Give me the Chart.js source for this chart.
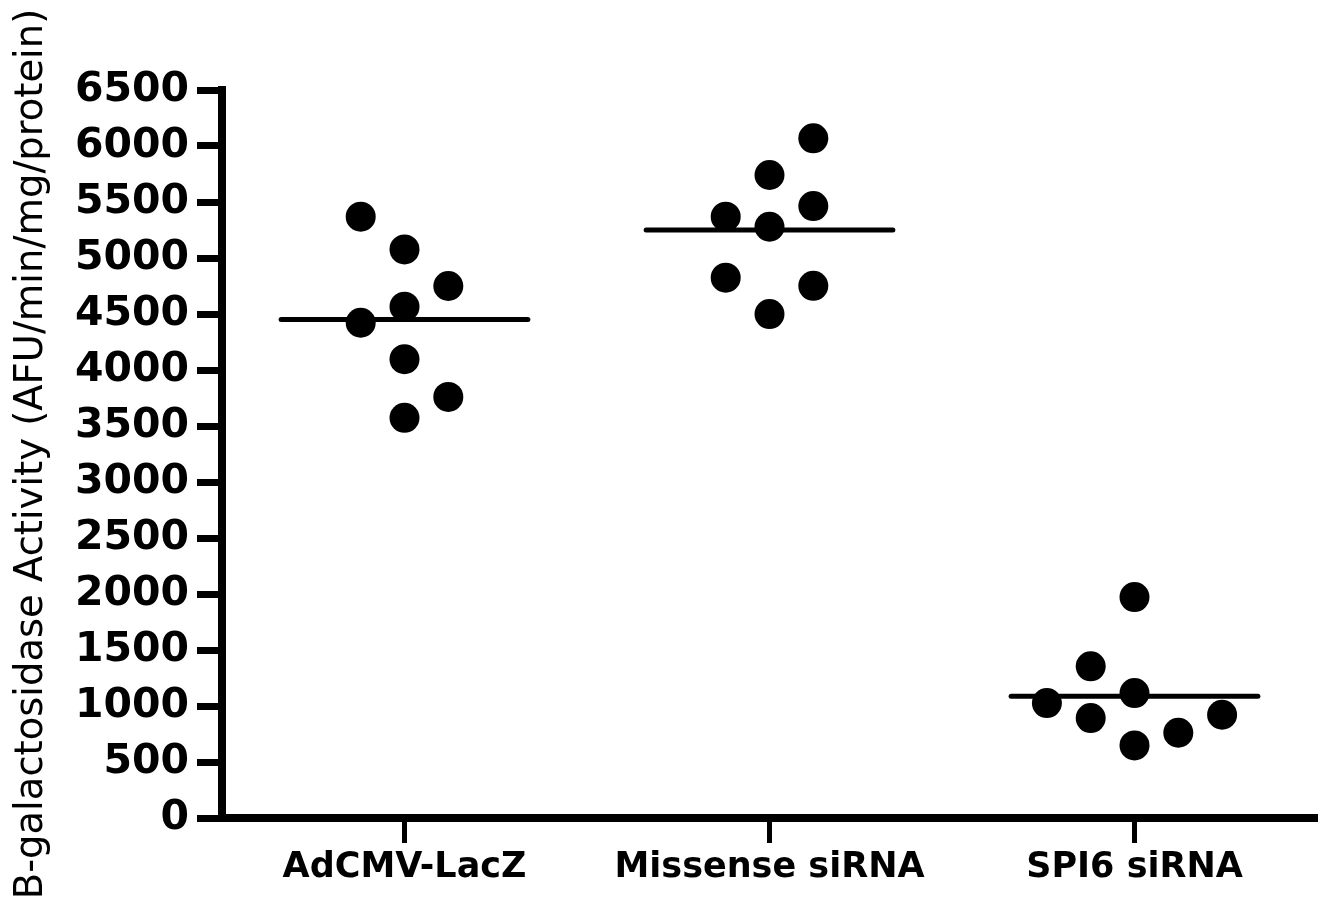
<!DOCTYPE html>
<html>
<head>
<meta charset="utf-8">
<script src="https://cdn.jsdelivr.net/npm/chart.js@4"></script>
<style>
  html, body { margin: 0; padding: 0; background: #ffffff; }
  #wrap { width: 1332px; height: 906px; }
</style>
</head>
<body>
<div id="wrap"><canvas id="c" width="1332" height="906"></canvas></div>
<script>
// ---- data ----
const categories = ['AdCMV-LacZ', 'Missense siRNA', 'SPI6 siRNA'];

const adcmvValues   = [5369, 5077, 4750, 4565, 4422, 4097, 3760, 3573];
const adcmvColumns  = [-1, 0, 1, 0, -1, 0, 1, 0];

const missenseValues  = [6069, 5741, 5369, 5464, 5279, 4824, 4752, 4499];
const missenseColumns = [1, 0, -1, 1, 0, -1, 1, 0];

const spi6Values  = [1973, 1354, 1026, 1115, 892, 922, 761, 648];
const spi6Columns = [0, -1, -2, 0, -1, 2, 1, 0];

const yMin = 0, yMax = 6500, yStep = 500;
const yTitle = 'B-galactosidase Activity (AFU/min/mg/protein)';

// ---- build ----
const columnSpacing = 0.12;   // horizontal spread of scatter columns (category units)
const meanHalfWidth = 0.338;

const groups = [
  { values: adcmvValues, columns: adcmvColumns },
  { values: missenseValues, columns: missenseColumns },
  { values: spi6Values, columns: spi6Columns }
];

const datasets = [];
groups.forEach((g, i) => {
  datasets.push({
    type: 'scatter',
    data: g.values.map((v, k) => ({ x: i + g.columns[k] * columnSpacing, y: v })),
    pointRadius: 15,
    pointHoverRadius: 15,
    pointBackgroundColor: '#000000',
    pointBorderColor: '#000000',
    pointBorderWidth: 0,
    showLine: false,
    clip: false
  });
});
groups.forEach((g, i) => {
  const mean = g.values.reduce((a, b) => a + b, 0) / g.values.length;
  datasets.push({
    type: 'line',
    data: [{ x: i - meanHalfWidth, y: mean }, { x: i + meanHalfWidth, y: mean }],
    borderColor: '#000000',
    borderWidth: 5,
    borderCapStyle: 'round',
    pointRadius: 0,
    fill: false,
    clip: false
  });
});

new Chart(document.getElementById('c'), {
  type: 'scatter',
  data: { datasets },
  options: {
    responsive: false,
    animation: false,
    events: [],
    layout: { padding: { left: 0, top: 90, right: 8, bottom: 0 } },
    plugins: { legend: { display: false }, tooltip: { enabled: false }, title: { display: false } },
    scales: {
      x: {
        type: 'linear',
        min: -0.5,
        max: 2.5,
        afterBuildTicks: (s) => { s.ticks = categories.map((c, i) => ({ value: i })); },
        afterFit: (s) => { s.height = 88; },
        ticks: {
          autoSkip: false,
          maxRotation: 0,
          color: '#000000',
          padding: 4,
          font: { family: 'DejaVu Sans', weight: 'bold', size: 35 },
          callback: (v) => categories[Math.round(v)]
        },
        grid: { display: true, drawOnChartArea: false, drawTicks: true, tickLength: 25, tickWidth: 5, tickColor: '#000000' },
        border: { display: true, width: 8, color: '#000000' }
      },
      y: {
        min: yMin,
        max: yMax,
        afterFit: (s) => { s.width = 222; },
        ticks: {
          stepSize: yStep,
          color: '#000000',
          padding: 8,
          font: { family: 'DejaVu Sans', weight: 'bold', size: 41 },
          callback: (v) => String(v)
        },
        grid: { display: true, drawOnChartArea: false, drawTicks: true, tickLength: 25, tickWidth: 7, tickColor: '#000000' },
        border: { display: true, width: 8, color: '#000000' },
        title: {
          display: true,
          text: yTitle,
          color: '#000000',
          font: { family: 'DejaVu Sans', weight: 'normal', size: 38.5 },
          padding: { top: 9, bottom: 0 }
        }
      }
    }
  }
});
</script>
</body>
</html>
